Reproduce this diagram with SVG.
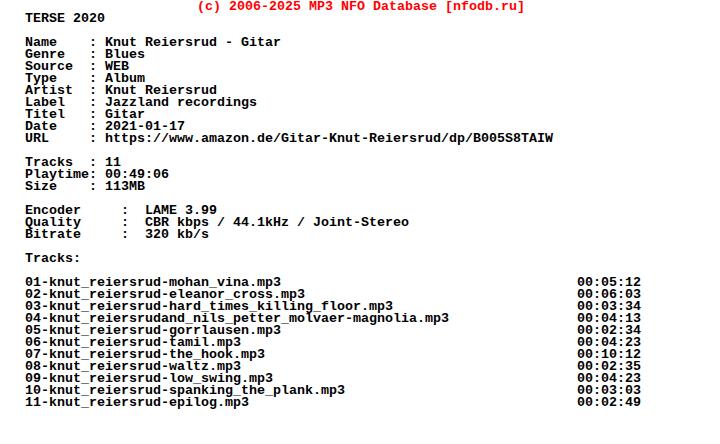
<svg xmlns="http://www.w3.org/2000/svg" width="720" height="444" viewBox="0 0 720 444">
<style>
text{font-family:"Liberation Mono","DejaVu Sans Mono",monospace;font-size:13.333px;font-weight:bold;fill:#000;white-space:pre}
.hdr{fill:#ff0000}
</style>
<rect width="720" height="444" fill="#fff"/>
<text class="hdr" x="197" y="9.7" xml:space="preserve">(c) 2006-2025 MP3 NFO Database [nfodb.ru]</text>
<g id="info">
<text x="25" y="22" xml:space="preserve">TERSE 2020</text>
<text x="25" y="46" xml:space="preserve">Name    : Knut Reiersrud - Gitar</text>
<text x="25" y="58" xml:space="preserve">Genre   : Blues</text>
<text x="25" y="70" xml:space="preserve">Source  : WEB</text>
<text x="25" y="82" xml:space="preserve">Type    : Album</text>
<text x="25" y="94" xml:space="preserve">Artist  : Knut Reiersrud</text>
<text x="25" y="106" xml:space="preserve">Label   : Jazzland recordings</text>
<text x="25" y="118" xml:space="preserve">Titel   : Gitar</text>
<text x="25" y="130" xml:space="preserve">Date    : 2021-01-17</text>
<text x="25" y="142" xml:space="preserve">URL     : https://www.amazon.de/Gitar-Knut-Reiersrud/dp/B005S8TAIW</text>
<text x="25" y="166" xml:space="preserve">Tracks  : 11</text>
<text x="25" y="178" xml:space="preserve">Playtime: 00:49:06</text>
<text x="25" y="190" xml:space="preserve">Size    : 113MB</text>
<text x="25" y="214" xml:space="preserve">Encoder     :  LAME 3.99</text>
<text x="25" y="226" xml:space="preserve">Quality     :  CBR kbps / 44.1kHz / Joint-Stereo</text>
<text x="25" y="238" xml:space="preserve">Bitrate     :  320 kb/s</text>
<text x="25" y="262" xml:space="preserve">Tracks:</text>
</g>
<g id="tracks">
<text x="25" y="286">01-knut_reiersrud-mohan_vina.mp3</text>
<text x="25" y="298">02-knut_reiersrud-eleanor_cross.mp3</text>
<text x="25" y="310">03-knut_reiersrud-hard_times_killing_floor.mp3</text>
<text x="25" y="322">04-knut_reiersrudand_nils_petter_molvaer-magnolia.mp3</text>
<text x="25" y="334">05-knut_reiersrud-gorrlausen.mp3</text>
<text x="25" y="346">06-knut_reiersrud-tamil.mp3</text>
<text x="25" y="358">07-knut_reiersrud-the_hook.mp3</text>
<text x="25" y="370">08-knut_reiersrud-waltz.mp3</text>
<text x="25" y="382">09-knut_reiersrud-low_swing.mp3</text>
<text x="25" y="394">10-knut_reiersrud-spanking_the_plank.mp3</text>
<text x="25" y="406">11-knut_reiersrud-epilog.mp3</text>
</g>
<g id="times">
<text x="577" y="286">00:05:12</text>
<text x="577" y="298">00:06:03</text>
<text x="577" y="310">00:03:34</text>
<text x="577" y="322">00:04:13</text>
<text x="577" y="334">00:02:34</text>
<text x="577" y="346">00:04:23</text>
<text x="577" y="358">00:10:12</text>
<text x="577" y="370">00:02:35</text>
<text x="577" y="382">00:04:23</text>
<text x="577" y="394">00:03:03</text>
<text x="577" y="406">00:02:49</text>
</g>
</svg>
